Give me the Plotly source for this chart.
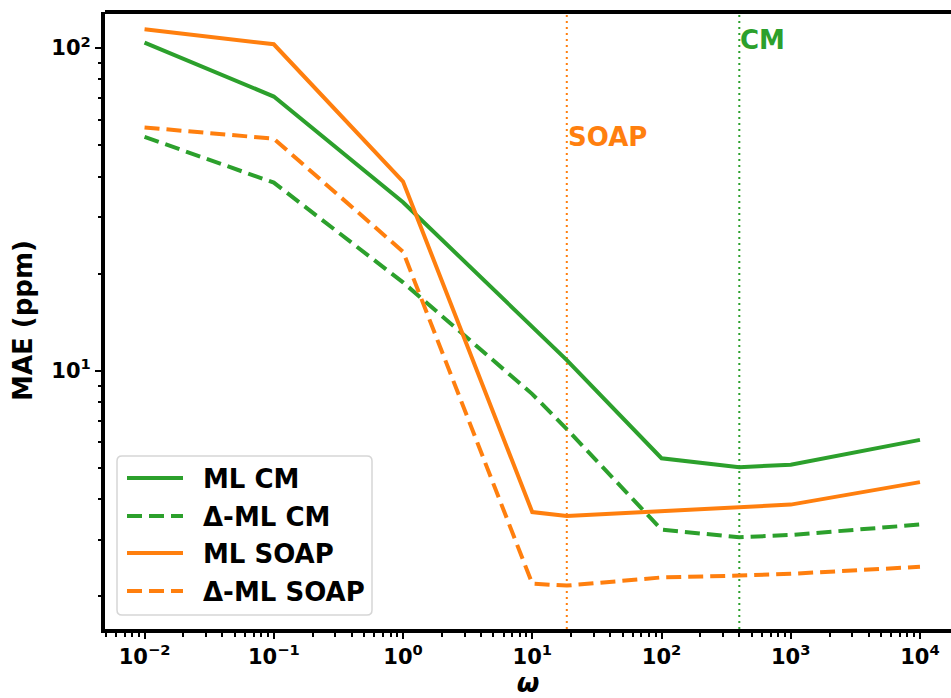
import numpy as np
import plotly.graph_objects as go

# Regularisation weight grid and errors (ppm)
omega = [0.01, 0.1, 1, 10, 18.5, 100, 400, 1000, 10000]
ml_cm = [104, 70.8, 33.3, 13.8, 10.8, 5.36, 5.03, 5.12, 6.11]
dml_cm = [53.1, 38.3, 18.8, 8.47, 6.6, 3.22, 3.05, 3.10, 3.34]
ml_soap = [114.5, 102.8, 38.6, 3.65, 3.55, 3.67, 3.76, 3.85, 4.52]
dml_soap = [56.8, 52.4, 23.4, 2.19, 2.16, 2.29, 2.32, 2.35, 2.47]

series_names = ["ML CM", "Δ-ML CM", "ML SOAP", "Δ-ML SOAP"]
series_values = [ml_cm, dml_cm, ml_soap, dml_soap]
GREEN, ORANGE = "#2ca02c", "#ff7f0e"
series_colors = [GREEN, GREEN, ORANGE, ORANGE]
series_dash = ["solid", "15px,7px", "solid", "15px,7px"]

# Optimal omega markers
opt_labels = ["SOAP", "CM"]
opt_omega = [18.5, 400]
opt_label_y = [53, 106]
opt_colors = [ORANGE, GREEN]

x_major = [1e-2, 1e-1, 1e0, 1e1, 1e2, 1e3, 1e4]
x_major_text = ["10<sup>−2</sup>", "10<sup>−1</sup>", "10<sup>0</sup>", "10<sup>1</sup>",
                "10<sup>2</sup>", "10<sup>3</sup>", "10<sup>4</sup>"]
y_major = [10, 100]
y_major_text = ["10<sup>1</sup>", "10<sup>2</sup>"]

W, H = 951, 698
L, R, T, B = 105, 0, 12, 69
FONT = "DejaVu Sans"
BIG = 26

fig = go.Figure()
for name, vals, col, dash in zip(series_names, series_values, series_colors, series_dash):
    fig.add_trace(go.Scatter(x=omega, y=vals, mode="lines", name=name,
                             line=dict(color=col, width=4, dash=dash),
                             showlegend=False))

# vertical dotted lines at the optimal omega and their labels
for lab, xv, yv, col in zip(opt_labels, opt_omega, opt_label_y, opt_colors):
    fig.add_shape(type="line", xref="x", yref="paper", x0=xv, x1=xv, y0=0, y1=1,
                  line=dict(color=col, width=2, dash="2px,4px"), layer="below")
    fig.add_annotation(x=np.log10(xv), y=np.log10(yv), xref="x", yref="y", text=lab,
                       showarrow=False, xanchor="left", yanchor="middle", xshift=-1,
                       font=dict(family=FONT, size=BIG, color=col, weight="bold"))

# minor tick positions
x_minor = [m * 10.0 ** e for e in range(-3, 4) for m in range(2, 10)]
y_minor = [m * 10.0 ** e for e in range(0, 2) for m in range(2, 10)]

pw = W - L - R
ph = H - T - B


def px2paper(px, py):
    return (px - L) / pw, (H - B - py) / ph


# hand-built legend with a rounded frame
bx0, by0 = px2paper(117, 615)
bx1, by1 = px2paper(372, 456)
rx, ry = 5 / pw, 5 / ph
path = (f"M {bx0+rx},{by0} L {bx1-rx},{by0} Q {bx1},{by0} {bx1},{by0+ry} "
        f"L {bx1},{by1-ry} Q {bx1},{by1} {bx1-rx},{by1} L {bx0+rx},{by1} "
        f"Q {bx0},{by1} {bx0},{by1-ry} L {bx0},{by0+ry} Q {bx0},{by0} {bx0+rx},{by0} Z")
fig.add_shape(type="path", xref="paper", yref="paper", path=path,
              line=dict(color="#d6d6d6", width=1.5), fillcolor="rgba(255,255,255,0.8)")
row_y = [478, 516, 553, 591]
for name, col, dash, py in zip(series_names, series_colors, series_dash, row_y):
    lx0, ly = px2paper(127, py)
    lx1, _ = px2paper(183, py)
    fig.add_shape(type="line", xref="paper", yref="paper", x0=lx0, x1=lx1, y0=ly, y1=ly,
                  line=dict(color=col, width=4, dash=dash))
    tx, ty = px2paper(201, py + 1)
    fig.add_annotation(x=tx, y=ty, xref="paper", yref="paper", text=name, showarrow=False,
                       xanchor="left", yanchor="middle",
                       font=dict(family=FONT, size=BIG, color="black", weight="bold"))

# top frame edge
fig.add_shape(type="line", xref="paper", yref="paper", x0=0, x1=1, y0=1, y1=1,
              line=dict(color="black", width=4))

fig.update_layout(
    width=W, height=H,
    margin=dict(l=L, r=R, t=T, b=B, autoexpand=False),
    plot_bgcolor="white", paper_bgcolor="white",
    font=dict(family=FONT, size=21, color="black", weight="bold"),
    xaxis=dict(type="log", range=[-2.306, 4.24], showgrid=False, zeroline=False,
               showline=True, linecolor="black", linewidth=4, mirror=False, automargin=False,
               ticks="outside", ticklen=6, tickwidth=2, tickcolor="black",
               tickmode="array", tickvals=x_major, ticktext=x_major_text,
               minor=dict(tickmode="array", tickvals=x_minor, ticks="outside",
                          ticklen=3.5, tickwidth=1.5, tickcolor="black", showgrid=False),
               title=dict(text="<i>ω</i>", font=dict(size=BIG, weight="bold"), standoff=16)),
    yaxis=dict(type="log", range=[0.200, 2.112], showgrid=False, zeroline=False,
               showline=True, linecolor="black", linewidth=4, mirror=False, automargin=False,
               ticks="outside", ticklen=6, tickwidth=2, tickcolor="black",
               tickmode="array", tickvals=y_major, ticktext=y_major_text,
               minor=dict(tickmode="array", tickvals=y_minor, ticks="outside",
                          ticklen=3.5, tickwidth=1.5, tickcolor="black", showgrid=False),
               title=dict(text="MAE (ppm)", font=dict(size=BIG, weight="bold"), standoff=12)),
)

fig.write_html("out.html")
